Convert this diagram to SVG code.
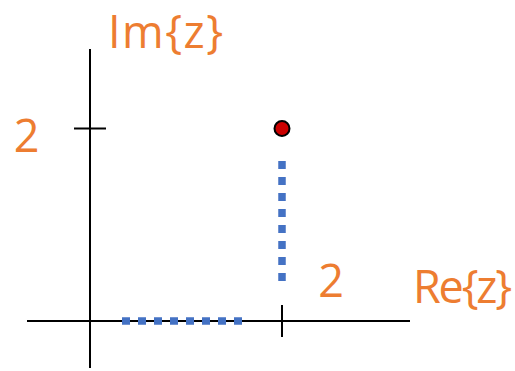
<svg xmlns="http://www.w3.org/2000/svg" width="515" height="371" viewBox="0 0 515 371">
<style>
.axis{stroke:#000;stroke-width:2;fill:none}
.dots{stroke:#4472C4;stroke-width:7.5;stroke-dasharray:8 8;fill:none}
.lbl{fill:#ED7D31;font-family:"Open Sans","Liberation Sans",sans-serif;font-size:45px}
</style>
<rect width="515" height="371" fill="#fff"/>
<g id="connectors">
<line class="axis" x1="90" y1="49" x2="90" y2="368"/>
<line class="axis" x1="27" y1="321" x2="410" y2="321"/>
<line class="axis" x1="74" y1="128.5" x2="106" y2="128.5"/>
<line class="axis" x1="282" y1="305" x2="282" y2="337"/>
<line class="dots" x1="122" y1="321" x2="242" y2="321"/>
<line class="dots" x1="282" y1="161" x2="282" y2="281"/>
</g>
<g id="point"><circle cx="282" cy="128.5" r="7.5" fill="#CC0000" stroke="#000" stroke-width="2"/></g>
<g id="label-im"><text class="lbl" x="108" y="47.5" font-size="42" letter-spacing="1.5">Im{z}</text></g>
<g id="label-re"><text class="lbl" x="413" y="303" letter-spacing="-2.2">Re{z}</text></g>
<g id="label-2y"><text class="lbl" x="26.5" y="152" text-anchor="middle">2</text></g>
<g id="label-2x"><text class="lbl" x="331" y="297" text-anchor="middle">2</text></g>
</svg>
